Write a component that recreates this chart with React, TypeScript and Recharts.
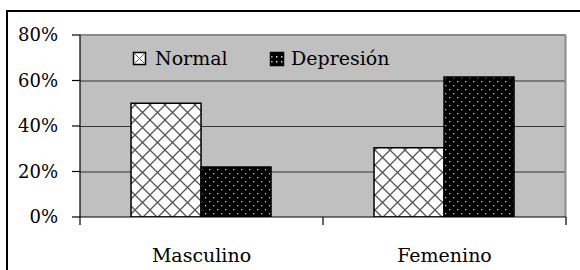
import React from "react";
import { BarChart, Bar, XAxis, YAxis, CartesianGrid } from "recharts";

const categories = ["Masculino", "Femenino"];
const normalValues = [50, 30.4];
const depresionValues = [22, 61.5];
const yTicks = [0, 20, 40, 60, 80];
const seriesNames = ["Normal", "Depresión"];

const data = categories.map((c, i) => ({
  name: c,
  normal: normalValues[i],
  depresion: depresionValues[i],
}));

const FONT = "DejaVu Serif";
const W = 580;
const H = 270;
const PLOT_LEFT = 80;
const PLOT_RIGHT_MARGIN = 14;
const BAND = (W - PLOT_LEFT - PLOT_RIGHT_MARGIN) / categories.length;

const XTick = (props: any) => {
  const { x, y, payload, index } = props;
  return (
    <g>
      <line x1={x + BAND / 2} y1={y} x2={x + BAND / 2} y2={y + 8} stroke="#000" strokeWidth={1.2} />
      {index === 0 && (
        <line x1={x - BAND / 2} y1={y} x2={x - BAND / 2} y2={y + 8} stroke="#000" strokeWidth={1.2} />
      )}
      <text x={x} y={y + 45} textAnchor="middle" fontFamily={FONT} fontSize={19} fill="#000">
        {payload.value}
      </text>
    </g>
  );
};

const YTick = (props: any) => {
  const { x, y, payload } = props;
  return (
    <text x={x} y={y} dy="0.36em" textAnchor="end" fontFamily={FONT} fontSize={18} fill="#000">
      {`${payload.value}%`}
    </text>
  );
};

const Patterns = () => (
  <defs>
    <pattern id="pNormal" width={15} height={15} patternUnits="userSpaceOnUse">
      <rect width={15} height={15} fill="#fff" />
      <path d="M0,0 L15,15 M15,0 L0,15" stroke="#555" strokeWidth={1.3} />
    </pattern>
    <pattern id="pDep" width={8} height={8} patternUnits="userSpaceOnUse">
      <rect width={8} height={8} fill="#000" />
      <rect x={1} y={1} width={1.3} height={1.3} fill="#ccc" />
      <rect x={5} y={5} width={1.3} height={1.3} fill="#ccc" />
    </pattern>
  </defs>
);

export default function App() {
  return (
    <div
      style={{
        position: "absolute",
        left: 0,
        top: 0,
        width: W,
        height: H,
        overflow: "hidden",
        background: "#fff",
      }}
    >
      <div
        style={{
          position: "absolute",
          left: 6,
          top: 10,
          width: 620,
          height: 320,
          border: "2px solid #000",
        }}
      />
      <div style={{ position: "absolute", left: 0, top: 0 }}>
        <BarChart
          width={W}
          height={H}
          data={data}
          margin={{ top: 35, right: PLOT_RIGHT_MARGIN, left: 0, bottom: 13 }}
          barCategoryGap="21%"
          barGap={0}
        >
          <Patterns />
          <CartesianGrid
            vertical={false}
            fill="#C0C0C0"
            stroke="#333"
            strokeWidth={1}
            horizontalPoints={[81, 126.5, 172]}
          />
          <CartesianGrid
            horizontal={true}
            vertical={true}
            horizontalPoints={[35]}
            verticalPoints={[W - PLOT_RIGHT_MARGIN - 0.5]}
            stroke="#8a8a8a"
            strokeWidth={2}
          />
          <XAxis
            dataKey="name"
            height={40}
            tickLine={false}
            tickSize={0}
            tickMargin={0}
            axisLine={{ stroke: "#000", strokeWidth: 1.2 }}
            tick={<XTick />}
            interval={0}
          />
          <YAxis
            width={PLOT_LEFT}
            domain={[0, 80]}
            ticks={yTicks}
            tickSize={8}
            tickMargin={14}
            axisLine={{ stroke: "#000", strokeWidth: 1.2 }}
            tickLine={{ stroke: "#000", strokeWidth: 1.2 }}
            tick={<YTick />}
            allowDataOverflow
          />
          <Bar dataKey="normal" name={seriesNames[0]} fill="url(#pNormal)" stroke="#000" strokeWidth={1.5} isAnimationActive={false} />
          <Bar dataKey="depresion" name={seriesNames[1]} fill="url(#pDep)" stroke="#000" strokeWidth={1.5} isAnimationActive={false} />
        </BarChart>
      </div>
      <svg width={W} height={H} style={{ position: "absolute", left: 0, top: 0, pointerEvents: "none" }}>
        <defs>
          <pattern id="lgDep" width={5} height={5} patternUnits="userSpaceOnUse">
            <rect width={5} height={5} fill="#000" />
            <rect x={1} y={1} width={1.5} height={1.5} fill="#ddd" />
          </pattern>
        </defs>
        <g>
          <rect x={133.5} y={52.5} width={12} height={12} fill="#fff" stroke="#000" strokeWidth={1.5} />
          <path d="M134,53 L145,64 M145,53 L134,64" stroke="#666" strokeWidth={1} />
          <text x={155} y={65} fontFamily={FONT} fontSize={19} fill="#000">{seriesNames[0]}</text>
        </g>
        <g>
          <rect x={270.5} y={52.5} width={13} height={13} fill="url(#lgDep)" stroke="#000" strokeWidth={1.5} />
          <text x={291} y={65} fontFamily={FONT} fontSize={19} fill="#000">{seriesNames[1]}</text>
        </g>
      </svg>
    </div>
  );
}
